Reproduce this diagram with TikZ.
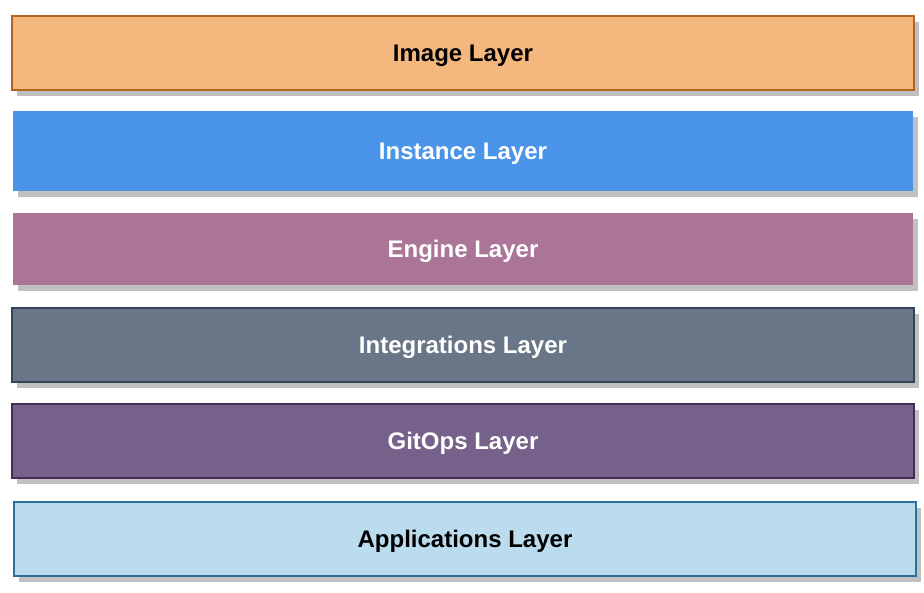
\documentclass[tikz,border=0pt]{standalone}
\usepackage{fontspec}
\setmainfont{Liberation Sans}
\usetikzlibrary{shadows}
\definecolor{shadowgray}{HTML}{C0C0C0}
\definecolor{imgfill}{HTML}{F4B77E}
\definecolor{imgdraw}{HTML}{B0661F}
\definecolor{instfill}{HTML}{4A94E9}
\definecolor{engfill}{HTML}{AB7598}
\definecolor{intfill}{HTML}{687687}
\definecolor{intdraw}{HTML}{344357}
\definecolor{gitfill}{HTML}{75618A}
\definecolor{gitdraw}{HTML}{432D57}
\definecolor{appfill}{HTML}{BADCEE}
\definecolor{appdraw}{HTML}{2E6F99}
\tikzset{
  layer/.style={rectangle, inner sep=0pt, outer sep=0pt, minimum width=902pt,
    text depth=0pt,
    font=\fontsize{24}{28}\selectfont\bfseries,
    drop shadow={shadow xshift=4.5pt, shadow yshift=-5.5pt, fill=shadowgray, opacity=1}},
}
\begin{document}
\begin{tikzpicture}[x=1pt,y=-1pt]
\useasboundingbox[fill=white] (0,0) rectangle (924,592);
\node[layer, minimum height=74pt, fill=imgfill, draw=imgdraw, line width=1.3pt, text=black] (image) at (463,53) {Image Layer};
\node[layer, minimum height=80pt, minimum width=900pt, fill=instfill, text=white] (instance) at (463,151) {Instance Layer};
\node[layer, minimum height=72pt, minimum width=900pt, fill=engfill, text=white] (engine) at (463,249) {Engine Layer};
\node[layer, minimum height=74pt, fill=intfill, draw=intdraw, line width=1.3pt, text=white] (integ) at (463,345) {Integrations Layer};
\node[layer, minimum height=74pt, fill=gitfill, draw=gitdraw, line width=1.3pt, text=white] (gitops) at (463,441) {GitOps Layer};
\node[layer, minimum height=74pt, fill=appfill, draw=appdraw, line width=1.3pt, text=black] (apps) at (465,539) {Applications Layer};
\end{tikzpicture}
\end{document}
